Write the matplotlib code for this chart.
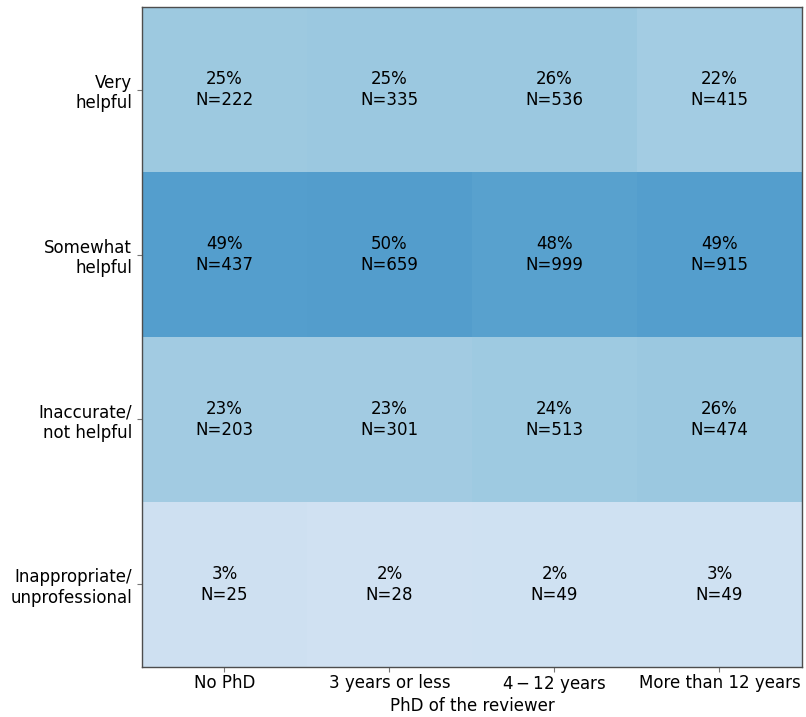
import numpy as np
import matplotlib
matplotlib.use("Agg")
import matplotlib.pyplot as plt

# rows: helpfulness rating, columns: PhD of the reviewer
ratings = ["Very\nhelpful", "Somewhat\nhelpful", "Inaccurate/\nnot helpful", "Inappropriate/\nunprofessional"]
phd_groups = ["No PhD", "3 years or less", "$4-12$ years", "More than 12 years"]

pct = np.array([
    [25, 25, 26, 22],
    [49, 50, 48, 49],
    [23, 23, 24, 26],
    [3, 2, 2, 3],
])
counts = np.array([
    [222, 335, 536, 415],
    [437, 659, 999, 915],
    [203, 301, 513, 474],
    [25, 28, 49, 49],
])

# colour from the exact share, labels show rounded share
frac = counts / counts.sum(axis=0, keepdims=True) * 100


def main():
    plt.rcParams["font.family"] = "DejaVu Sans"
    plt.rcParams["font.size"] = 12
    fig = plt.figure(figsize=(8.06, 7.17), dpi=100)
    ax = fig.add_axes([0.176, 0.070, 0.819, 0.920])

    ax.imshow(frac, cmap="Blues", vmin=-23, vmax=104, aspect="auto")

    for i in range(pct.shape[0]):
        for j in range(pct.shape[1]):
            ax.text(j, i, "%d%%\nN=%d" % (pct[i, j], counts[i, j]),
                    ha="center", va="center", fontsize=12, color="black")

    ax.set_xticks(range(len(phd_groups)))
    ax.set_xticklabels(phd_groups)
    ax.set_yticks(range(len(ratings)))
    ax.set_yticklabels(ratings, ha="right")
    ax.set_xlabel("PhD of the reviewer", labelpad=1)

    for s in ax.spines.values():
        s.set_color("#4d4d4d")
        s.set_linewidth(1.0)
    ax.tick_params(color="#777777", length=3.5)
    ax.tick_params(axis="x", pad=2)

    fig.savefig("out.png", dpi=100)


if __name__ == "__main__":
    main()
